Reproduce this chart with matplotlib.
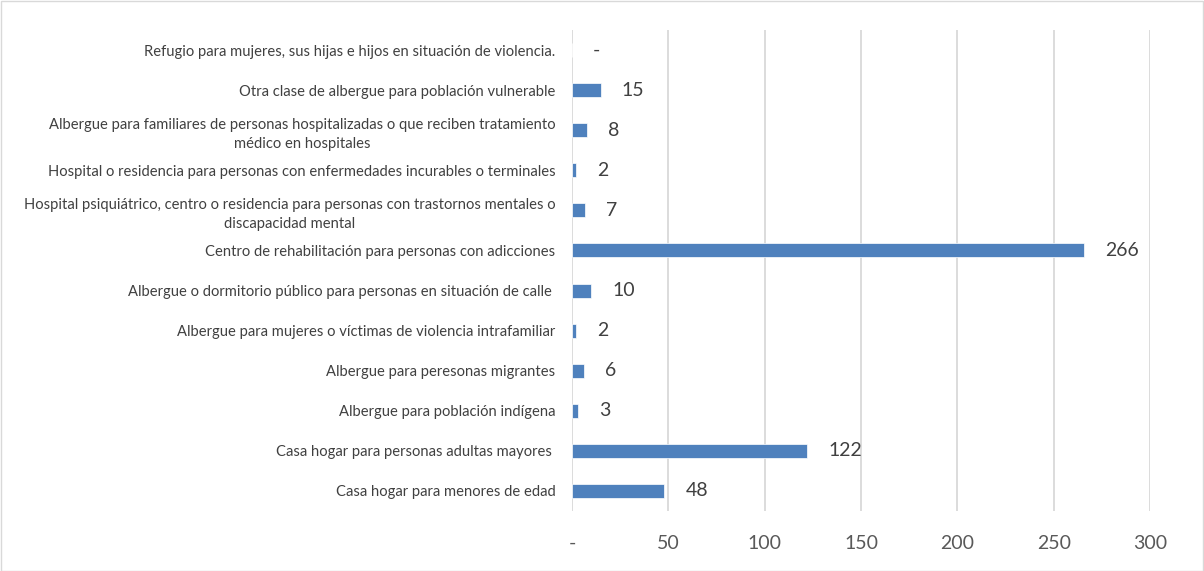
import matplotlib
matplotlib.use("Agg")
import matplotlib.pyplot as plt
from matplotlib.patches import Rectangle

plt.rcParams['font.family'] = ['Lato', 'DejaVu Sans']

categories = [
    "Casa hogar para menores de edad",
    "Casa hogar para personas adultas mayores ",
    "Albergue para población indígena",
    "Albergue para peresonas migrantes",
    "Albergue para mujeres o víctimas de violencia intrafamiliar",
    "Albergue o dormitorio público para personas en situación de calle ",
    "Centro de rehabilitación para personas con adicciones",
    "Hospital psiquiátrico, centro o residencia para personas con trastornos mentales o\ndiscapacidad mental",
    "Hospital o residencia para personas con enfermedades incurables o terminales",
    "Albergue para familiares de personas hospitalizadas o que reciben tratamiento\nmédico en hospitales",
    "Otra clase de albergue para población vulnerable",
    "Refugio para mujeres, sus hijas e hijos en situación de violencia.",
]
values = [48, 122, 3, 6, 2, 10, 266, 7, 2, 8, 15, 0]
xticks = [0, 50, 100, 150, 200, 250, 300]
xticklabels = ["-", "50", "100", "150", "200", "250", "300"]

W, H, DPI = 1204, 571, 100
fig = plt.figure(figsize=(W / DPI, H / DPI), dpi=DPI)
ax = fig.add_axes([572 / W, 1 - 511 / H, (1150 - 572) / W, (511 - 30) / H])

y = list(range(len(categories)))
ax.barh(y, values, height=0.35, color="#4F81BD", edgecolor="white", linewidth=0.5, zorder=3)

ax.set_xlim(0, 300)
ax.set_ylim(-0.5, len(categories) - 0.5)
ax.set_xticks(xticks)
ax.set_xticklabels(xticklabels, fontsize=14, color="#595959")
ax.set_yticks(y)
ax.set_yticklabels(categories, fontsize=10.6, color="#404040", multialignment="center",
                   linespacing=1.5)
ax.tick_params(axis="both", length=0)
ax.tick_params(axis="x", pad=17)
ax.tick_params(axis="y", pad=12)
ax.grid(axis="x", color="#D9D9D9", linewidth=1.3, zorder=0)
ax.set_axisbelow(True)
for s in ax.spines.values():
    s.set_visible(False)

off = 300 * 21 / 578
for yi, v in zip(y, values):
    lab = "-" if v == 0 else str(v)
    ax.text(v + off, yi, lab, va="center", ha="left", fontsize=14, color="#404040", zorder=4)

fig.patches.append(Rectangle((0.5 / W, 0.5 / H), 1 - 1.5 / W, 1 - 1.5 / H, transform=fig.transFigure,
                             fill=False, edgecolor="#D9D9D9", linewidth=1.0))

fig.savefig("out.png", dpi=DPI)
